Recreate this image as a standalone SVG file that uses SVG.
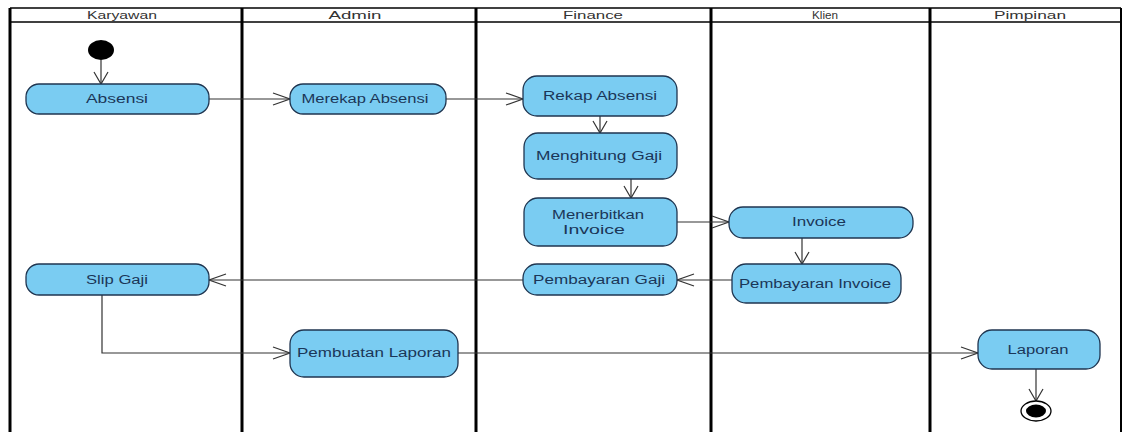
<svg xmlns="http://www.w3.org/2000/svg" width="1126" height="432" viewBox="0 0 1126 432">
<style>
.lane{stroke:#000;stroke-width:3;fill:none}
.hdr{font-family:"Liberation Sans",Arial,sans-serif;font-size:11px;fill:#333;text-anchor:middle}
.act rect{fill:#7accf2;stroke:#1f3550;stroke-width:1.3}
.act text{font-family:"Liberation Sans",Arial,sans-serif;font-size:12px;fill:#1b3658;text-anchor:middle}
.con{stroke:#333;stroke-width:1.2;fill:none}
</style>
<defs>
<marker id="arrH" markerUnits="userSpaceOnUse" markerWidth="20" markerHeight="16" refX="18" refY="7" orient="auto">
<path d="M1,1 L18,7 L1,13" fill="none" stroke="#333" stroke-width="1.2"/>
</marker>
<marker id="arrV" markerUnits="userSpaceOnUse" markerWidth="16" markerHeight="18" refX="13" refY="8" orient="auto">
<path d="M1,1 L13,8 L1,15" fill="none" stroke="#333" stroke-width="1.2"/>
</marker>
</defs>
<rect width="1126" height="432" fill="#fff"/>
<g id="swimlanes">
<line x1="10" y1="8" x2="1121" y2="8" stroke="#000" stroke-width="1.5"/>
<line x1="10" y1="22" x2="1121" y2="22" stroke="#000" stroke-width="1.5"/>
<line class="lane" x1="10" y1="8" x2="10" y2="432"/>
<line class="lane" x1="242" y1="8" x2="242" y2="432"/>
<line class="lane" x1="476" y1="8" x2="476" y2="432"/>
<line class="lane" x1="711" y1="8" x2="711" y2="432"/>
<line class="lane" x1="930" y1="8" x2="930" y2="432"/>
<line x1="1121" y1="8" x2="1121" y2="432" stroke="#000" stroke-width="2"/>
<text class="hdr" x="122" y="19" textLength="70" lengthAdjust="spacingAndGlyphs">Karyawan</text>
<text class="hdr" x="355" y="19" textLength="53" lengthAdjust="spacingAndGlyphs">Admin</text>
<text class="hdr" x="593" y="19" textLength="60" lengthAdjust="spacingAndGlyphs">Finance</text>
<text class="hdr" x="825" y="19" textLength="26" lengthAdjust="spacingAndGlyphs">Klien</text>
<text class="hdr" x="1030" y="19" textLength="72" lengthAdjust="spacingAndGlyphs">Pimpinan</text>
</g>
<g id="connectors">
<line class="con" x1="101" y1="60" x2="101" y2="84" marker-end="url(#arrV)"/>
<line class="con" x1="209" y1="99" x2="290" y2="99" marker-end="url(#arrH)"/>
<line class="con" x1="446" y1="99" x2="523" y2="99" marker-end="url(#arrH)"/>
<line class="con" x1="600" y1="116" x2="600" y2="133" marker-end="url(#arrV)"/>
<line class="con" x1="631" y1="179" x2="631" y2="198" marker-end="url(#arrV)"/>
<line class="con" x1="677" y1="222" x2="729" y2="222" marker-end="url(#arrH)"/>
<line class="con" x1="802" y1="238" x2="802" y2="264" marker-end="url(#arrV)"/>
<line class="con" x1="732" y1="280" x2="677" y2="280" marker-end="url(#arrH)"/>
<line class="con" x1="523" y1="280" x2="209" y2="280" marker-end="url(#arrH)"/>
<polyline class="con" points="102,295 102,353 290,353" marker-end="url(#arrH)"/>
<line class="con" x1="458" y1="353" x2="978" y2="353" marker-end="url(#arrH)"/>
<line class="con" x1="1036" y1="369" x2="1036" y2="401" marker-end="url(#arrV)"/>
</g>
<g id="initial"><ellipse cx="101" cy="50" rx="13" ry="10" fill="#000"/></g>
<g id="absensi" class="act"><rect x="26" y="84" width="183" height="30" rx="13"/><text x="117" y="103" textLength="62" lengthAdjust="spacingAndGlyphs">Absensi</text></g>
<g id="merekap" class="act"><rect x="290" y="84" width="156" height="30" rx="13"/><text x="365" y="103" textLength="127" lengthAdjust="spacingAndGlyphs">Merekap Absensi</text></g>
<g id="rekap" class="act"><rect x="523" y="76" width="154" height="40" rx="14"/><text x="600" y="100" textLength="114" lengthAdjust="spacingAndGlyphs">Rekap Absensi</text></g>
<g id="menghitung" class="act"><rect x="524" y="133" width="153" height="46" rx="14"/><text x="599" y="160" textLength="126" lengthAdjust="spacingAndGlyphs">Menghitung Gaji</text></g>
<g id="menerbitkan" class="act"><rect x="524" y="198" width="153" height="48" rx="14"/><text x="598" y="219" textLength="92" lengthAdjust="spacingAndGlyphs">Menerbitkan</text><text x="594" y="234" textLength="62" lengthAdjust="spacingAndGlyphs">Invoice</text></g>
<g id="invoice" class="act"><rect x="729" y="207" width="184" height="31" rx="14"/><text x="819" y="226" textLength="54" lengthAdjust="spacingAndGlyphs">Invoice</text></g>
<g id="pembayaran-invoice" class="act"><rect x="732" y="264" width="169" height="39" rx="14"/><text x="815" y="288" textLength="152" lengthAdjust="spacingAndGlyphs">Pembayaran Invoice</text></g>
<g id="pembayaran-gaji" class="act"><rect x="523" y="264" width="154" height="31" rx="14"/><text x="599" y="284" textLength="132" lengthAdjust="spacingAndGlyphs">Pembayaran Gaji</text></g>
<g id="slip-gaji" class="act"><rect x="26" y="264" width="183" height="31" rx="13"/><text x="117" y="284" textLength="62" lengthAdjust="spacingAndGlyphs">Slip Gaji</text></g>
<g id="pembuatan-laporan" class="act"><rect x="290" y="330" width="168" height="47" rx="14"/><text x="374" y="357" textLength="154" lengthAdjust="spacingAndGlyphs">Pembuatan Laporan</text></g>
<g id="laporan" class="act"><rect x="978" y="330" width="122" height="39" rx="14"/><text x="1038" y="354" textLength="61" lengthAdjust="spacingAndGlyphs">Laporan</text></g>
<g id="final"><ellipse cx="1036" cy="411" rx="15" ry="10" fill="#fff" stroke="#000" stroke-width="1.3"/><ellipse cx="1036" cy="411" rx="10" ry="6.5" fill="#000"/></g>
</svg>
